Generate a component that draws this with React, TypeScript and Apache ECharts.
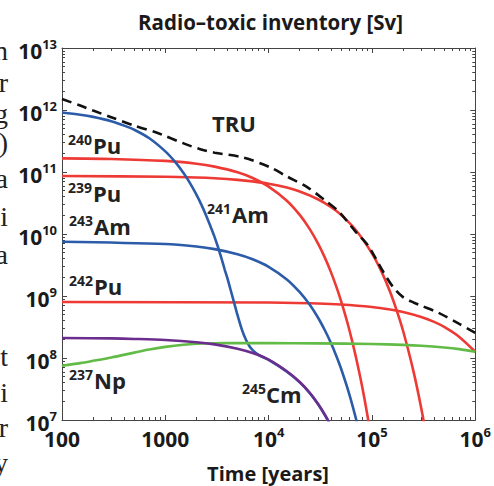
import React, { useEffect, useRef } from "react";
import * as echarts from "echarts";

const FONT = "'Open Sans', 'DejaVu Sans', sans-serif";
const SERIF = "'Liberation Serif', 'DejaVu Serif', serif";

// ---- axis ticks ----
const xDecades = [100, 1000, 10000, 100000, 1000000];
const yDecades = [1e7, 1e8, 1e9, 1e10, 1e11, 1e12, 1e13];
const minorSteps = [2, 3, 4, 5, 6, 7, 8, 9];

// ---- series data: [time (years), radiotoxicity (Sv)] ----
const tru: [number, number][] = [
  [100, 1.5e12], [150, 1.18e12], [200, 9.8e11], [290, 7.8e11], [500, 5.6e11],
  [830, 4.3e11], [1000, 3.8e11], [1500, 2.9e11], [2140, 2.35e11], [3000, 2.05e11],
  [5600, 1.72e11], [10230, 1.2e11], [15000, 8.5e10], [23400, 5.75e10], [35000, 3.5e10],
  [49000, 2.2e10], [70000, 1.07e10], [91200, 6.6e9], [126000, 2.6e9], [160000, 1.4e9],
  [200000, 9.6e8], [251000, 7.9e8], [300000, 7.0e8], [447000, 5.3e8], [700000, 3.55e8],
  [1000000, 2.55e8],
];
const pu240: [number, number][] = [
  [100, 1.66e11], [300, 1.625e11], [1000, 1.51e11], [2000, 1.36e11], [3000, 1.22e11],
  [5000, 9.9e10], [7000, 8.0e10], [10000, 5.8e10], [15000, 3.44e10], [20000, 2.03e10],
  [25000, 1.2e10], [30000, 7.06e9], [35000, 4.16e9], [40000, 2.45e9], [45000, 1.44e9],
  [50000, 8.5e8], [55000, 5.0e8], [60000, 2.96e8], [65000, 1.74e8], [70000, 1.03e8],
  [80000, 3.6e7], [90000, 1.24e7], [100000, 4.3e6],
];
const pu239: [number, number][] = [
  [100, 8.6e10], [1000, 8.38e10], [2000, 8.14e10], [3000, 7.91e10], [5000, 7.47e10],
  [7000, 7.05e10], [10000, 6.47e10], [15000, 5.6e10], [20000, 4.85e10], [30000, 3.64e10],
  [40000, 2.73e10], [50000, 2.05e10], [70000, 1.15e10], [100000, 4.87e9], [125000, 2.38e9],
  [150000, 1.16e9], [175000, 5.6e8], [200000, 2.75e8], [250000, 6.5e7], [300000, 1.55e7],
  [350000, 3.7e6],
];
const pu242: [number, number][] = [
  [100, 8.0e8], [10000, 7.86e8], [30000, 7.57e8], [50000, 7.3e8], [100000, 6.65e8],
  [150000, 6.06e8], [200000, 5.53e8], [300000, 4.6e8], [400000, 3.82e8], [500000, 3.17e8],
  [700000, 2.19e8], [1000000, 1.26e8],
];
const am241: [number, number][] = [
  [100, 9.1e11], [150, 8.4e11], [200, 7.75e11], [300, 6.6e11], [400, 5.6e11],
  [500, 4.8e11], [700, 3.5e11], [1000, 2.15e11], [1250, 1.44e11], [1500, 9.6e10],
  [1750, 6.45e10], [2000, 4.32e10], [2250, 2.9e10], [2500, 1.94e10], [2750, 1.3e10],
  [3000, 8.9e9], [3250, 6.0e9], [3500, 4.0e9], [3750, 2.7e9], [4000, 1.9e9],
  [4250, 1.32e9], [4500, 9.3e8], [4750, 6.7e8], [5000, 4.9e8], [5500, 2.9e8],
  [6000, 2.0e8], [6500, 1.56e8], [7000, 1.34e8], [8000, 1.12e8], [10000, 9.3e7],
  [15000, 6.0e7], [20000, 4.05e7], [25000, 2.72e7], [30000, 1.81e7], [35000, 1.2e7],
  [40000, 8.0e6],
];
const am243: [number, number][] = [
  [100, 7.5e9], [1000, 6.9e9], [2000, 6.27e9], [3000, 5.7e9], [5000, 4.73e9],
  [7000, 3.92e9], [10000, 2.96e9], [15000, 1.85e9], [20000, 1.15e9], [25000, 7.2e8],
  [30000, 4.5e8], [35000, 2.8e8], [40000, 1.76e8], [45000, 1.1e8], [50000, 6.9e7],
  [60000, 2.7e7], [70000, 1.05e7], [80000, 4.1e6],
];
const cm245: [number, number][] = [
  [100, 2.1e8], [300, 2.07e8], [500, 2.03e8], [1000, 1.95e8], [2000, 1.8e8],
  [3000, 1.66e8], [5000, 1.41e8], [7000, 1.2e8], [10000, 9.4e7], [15000, 6.1e7],
  [20000, 4.1e7], [25000, 2.75e7], [30000, 1.83e7], [35000, 1.22e7], [40000, 8.1e6],
];
const np237: [number, number][] = [
  [100, 7.5e7], [150, 8.27e7], [200, 9.0e7], [300, 1.02e8], [500, 1.22e8],
  [700, 1.37e8], [1000, 1.51e8], [1500, 1.64e8], [2000, 1.7e8], [3000, 1.73e8],
  [5000, 1.74e8], [10000, 1.735e8], [30000, 1.72e8], [100000, 1.68e8], [200000, 1.63e8],
  [300000, 1.58e8], [500000, 1.48e8], [700000, 1.39e8], [1000000, 1.26e8],
];

// ---- texts ----
const titleText = "Radio\u2013toxic inventory [Sv]";
const xAxisName = "Time [years]";
const isotopeMass = ["240", "239", "243", "242", "237", "241", "245"];
const isotopeSymbol = ["Pu", "Pu", "Am", "Pu", "Np", "Am", "Cm"];
const truText = "TRU";
const marginChars = ["n", "r", "g", ")", "a", "i", "a", "t", "i", "r", "y"];

// ---- layout (pixels) ----
const labelLayout = [
  { x: 68, xs: 93, base: 154 },
  { x: 68, xs: 93, base: 202 },
  { x: 69, xs: 94, base: 235 },
  { x: 69, xs: 94, base: 295 },
  { x: 69, xs: 94, base: 389 },
  { x: 207, xs: 232, base: 223 },
  { x: 242, xs: 266, base: 403 },
];
const marginBaselines = [60, 92, 123, 152, 188, 226, 264, 366, 402, 437, 472];

const RED = "#ee3a35";
const BLUE = "#2c5ca9";
const PURPLE = "#6b2d8e";
const GREEN = "#63bb47";
const TEXT = "#1a1a1a";
const AXIS = "#444";

const C = 0.388; // central-baseline offset (em) for Open Sans
const yFromBase = (base: number, fs: number, c = C) => base - c * fs;

const tickRich = {
  b: { fontFamily: FONT, fontSize: 21, fontWeight: 700, color: TEXT, lineHeight: 21, padding: [6, 0, 0, 0] },
  s: { fontFamily: FONT, fontSize: 13, fontWeight: 700, color: TEXT, lineHeight: 13, verticalAlign: "top" },
};

export default function App() {
  const ref = useRef<HTMLDivElement>(null);
  useEffect(() => {
    if (!ref.current) return;
    const chart = echarts.init(ref.current, undefined, { renderer: "svg" });

    const xMinor = xDecades.slice(0, 4).flatMap((d) => minorSteps.map((m) => m * d));
    const yMinor = yDecades.slice(0, 6).flatMap((d) => minorSteps.map((m) => m * d));

    const logX = (position: string, major: boolean, extra: any = {}) => ({
      type: "log",
      logBase: 10,
      min: 100,
      max: 1e6,
      position,
      axisLine: { show: major, lineStyle: { color: AXIS, width: 1 } },
      axisTick: {
        show: true,
        inside: true,
        length: major ? 5 : 3,
        customValues: major ? xDecades : xMinor,
        lineStyle: { color: AXIS, width: 1 },
      },
      axisLabel: { show: false },
      splitLine: { show: false },
      ...extra,
    });
    const logY = (position: string, major: boolean, extra: any = {}) => ({
      type: "log",
      logBase: 10,
      min: 1e7,
      max: 1e13,
      position,
      axisLine: { show: major, lineStyle: { color: AXIS, width: 1 } },
      axisTick: {
        show: true,
        inside: true,
        length: major ? 5 : 3,
        customValues: major ? yDecades : yMinor,
        lineStyle: { color: AXIS, width: 1 },
      },
      axisLabel: { show: false },
      splitLine: { show: false },
      ...extra,
    });

    const mk = (name: string, data: [number, number][], color: string, dashed = false) => ({
      type: "line",
      name,
      data,
      xAxisIndex: 0,
      yAxisIndex: 0,
      symbol: "none",
      showSymbol: false,
      smooth: 0.3,
      clip: true,
      silent: true,
      lineStyle: { color, width: 2.6, type: dashed ? [10, 6] : "solid", cap: "butt" },
    });

    const graphics: any[] = [];
    graphics.push({
      type: "text",
      x: 138,
      y: yFromBase(30, 20.5),
      style: { text: titleText, fill: TEXT, fontFamily: FONT, fontSize: 20.5, fontWeight: 700, align: "left", verticalAlign: "middle" },
    });
    graphics.push({
      type: "text",
      x: 268,
      y: yFromBase(481, 20),
      style: { text: xAxisName, fill: TEXT, fontFamily: FONT, fontSize: 20, fontWeight: 700, align: "center", verticalAlign: "middle" },
    });
    graphics.push({
      type: "text",
      x: 212,
      y: yFromBase(132, 22),
      style: { text: truText, fill: "#222", fontFamily: FONT, fontSize: 22, fontWeight: 700, align: "left", verticalAlign: "middle" },
    });
    isotopeMass.forEach((m, i) => {
      const L = labelLayout[i];
      graphics.push({
        type: "text",
        x: L.x,
        y: yFromBase(L.base - 9, 14),
        style: { text: m, fill: "#222", fontFamily: FONT, fontSize: 14, fontWeight: 700, align: "left", verticalAlign: "middle" },
      });
      graphics.push({
        type: "text",
        x: L.xs,
        y: yFromBase(L.base, 22),
        style: { text: isotopeSymbol[i], fill: "#222", fontFamily: FONT, fontSize: 22, fontWeight: 700, align: "left", verticalAlign: "middle" },
      });
    });
    marginChars.forEach((ch, i) => {
      graphics.push({
        type: "text",
        x: 8,
        y: yFromBase(marginBaselines[i], 28, 0.3375),
        style: { text: ch, fill: "#222", fontFamily: SERIF, fontSize: 28, align: "right", verticalAlign: "middle" },
      });
    });

    chart.setOption({
      animation: false,
      grid: { left: 62, right: 18, top: 48, bottom: 66, containLabel: false },
      xAxis: [
        logX("bottom", true, {
          axisLabel: {
            show: true,
            customValues: xDecades,
            margin: 5,
            formatter: (v: number) =>
              v < 1e4 ? `{b|${Math.round(v)}}` : `{b|10}{s|${Math.round(Math.log10(v))}}`,
            rich: tickRich,
          },
        }),
        logX("bottom", false),
        logX("top", true),
        logX("top", false),
      ],
      yAxis: [
        logY("left", true, {
          axisLabel: {
            show: true,
            customValues: yDecades,
            margin: 5,
            formatter: (v: number) => `{b|10}{s|${Math.round(Math.log10(v))}}`,
            rich: tickRich,
          },
        }),
        logY("left", false),
        logY("right", true),
        logY("right", false),
      ],
      series: [
        mk("242Pu", pu242, RED),
        mk("240Pu", pu240, RED),
        mk("239Pu", pu239, RED),
        mk("243Am", am243, BLUE),
        mk("241Am", am241, BLUE),
        mk("237Np", np237, GREEN),
        mk("245Cm", cm245, PURPLE),
        mk("TRU", tru, "#111", true),
      ],
      graphic: graphics,
    });
    return () => chart.dispose();
  }, []);
  return (
    <div
      ref={ref}
      style={{ position: "fixed", left: 0, top: 0, width: 494, height: 486, background: "#fff" }}
    />
  );
}
